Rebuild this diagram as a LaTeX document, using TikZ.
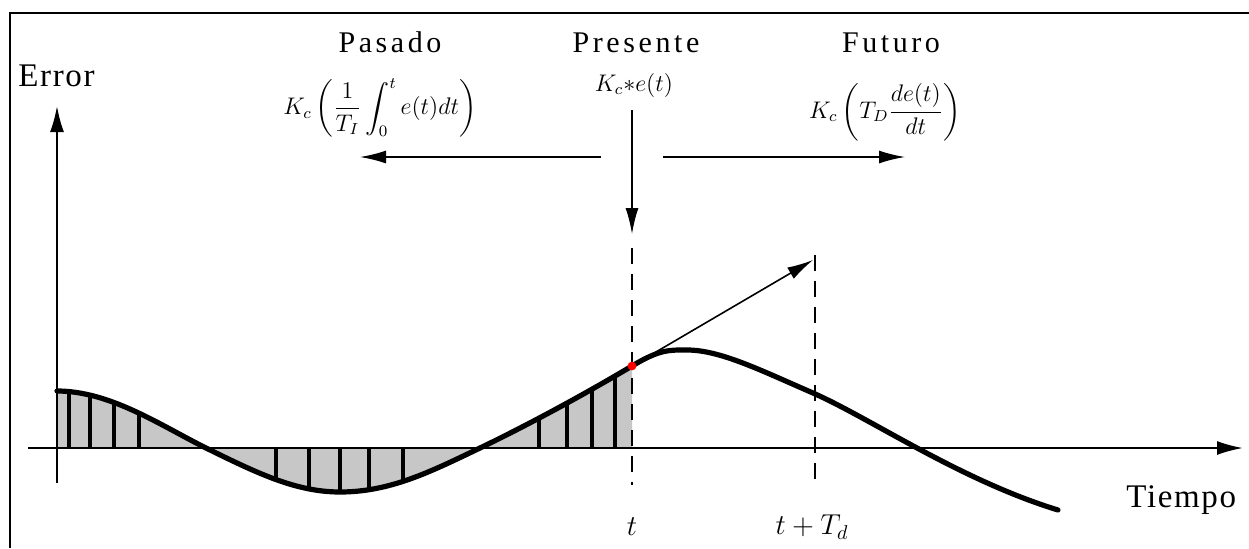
\documentclass[tikz,border=0pt]{standalone}
\usepackage{amsmath}
\usepackage{fontspec}
\setmainfont{Liberation Serif}
\usetikzlibrary{arrows.meta}

\tikzset{
    axis/.style={line width=1pt,-{Latex[length=13pt,width=7pt]}},
    timearrow/.style={line width=0.8pt,-{Latex[length=13pt,width=6.5pt]}},
    marker/.style={line width=0.7pt,dash pattern=on 8pt off 5pt},
    errline/.style={line width=2.6pt,line join=round,line cap=round},
    hatch/.style={line width=2pt},
    areafill/.style={fill=black!22},
    title/.style={anchor=base,inner sep=0pt,font=\fontsize{15}{18}\selectfont\addfontfeature{LetterSpace=12}},
    axislabel/.style={anchor=base west,inner sep=0pt,font=\fontsize{16.5}{20}\selectfont\addfontfeature{LetterSpace=5}},
    formula/.style={inner sep=0pt,font=\fontsize{12}{14}\selectfont},
    timelabel/.style={font=\fontsize{14}{16}\selectfont},
}

% error signal e(t), pixel coordinates (y down)
\def\errorcurve{(57,391) .. controls (110,391) and (160,425) .. (206,448)
    .. controls (255,472) and (295,492) .. (340,492)
    .. controls (390,492) and (430,472) .. (480,448)
    .. controls (540,419) and (595,388) .. (632,366)
    .. controls (660,349) and (670,350) .. (687,350)
    .. controls (720,350) and (760,370) .. (813,393)
    .. controls (870,418) and (960,480) .. (1058,510)}

\begin{document}
\begin{tikzpicture}[x=0.5pt,y=-0.5pt]
    \useasboundingbox (0,0) rectangle (1249,548);
    % frame (top and left only)
    \draw[line width=1pt] (10,548) -- (10,13) -- (1249,13);
    % area under the curve up to t
    \begin{scope}
        \clip (57,0) rectangle (632,548);
        \path[areafill] \errorcurve -- (1058,448) -- (57,448) -- cycle;
        \clip \errorcurve -- (1058,448) -- (57,448) -- cycle;
        \foreach \xbar in {69,90,114,139,276,309,340,369,403,539,567,592,615}
            \draw[hatch] (\xbar,300) -- (\xbar,520);
    \end{scope}
    % axes
    \coordinate (ybot) at (57,483);
    \coordinate (ytop) at (57,106);
    \coordinate (xleft) at (28,448);
    \coordinate (xright) at (1243,448);
    \draw[axis] (ybot) -- (ytop);
    \draw[axis] (xleft) -- (xright);
    \node[axislabel] (error) at (18,86) {Error};
    \node[axislabel] (tiempo) at (1126,507) {Tiempo};
    % the curve
    \draw[errline] \errorcurve;
    % present instant and prediction
    \coordinate (tnow) at (632,366);
    \coordinate (tpred) at (813,260);
    \draw[marker] (632,248) -- (632,485);
    \draw[marker] (815,255) -- (815,485);
    \draw[timearrow] (tnow) -- (tpred);
    \fill[red] (tnow) circle (2.2pt);
    \node[timelabel] (tlab) at (632,527) {$t$};
    \node[timelabel] (tdlab) at (812,527) {$t+T_d$};
    % titles and terms
    \node[title] (pasado) at (390,52) {Pasado};
    \node[title] (presente) at (636,52) {Presente};
    \node[title] (futuro) at (891,52) {Futuro};
    \node[formula] (fpasado) at (380,108)
        {$K_c\left(\dfrac{1}{T_I}\displaystyle\int_0^t e(t)dt\right)$};
    \node[formula] (fpresente) at (634,85) {$K_c{*}e(t)$};
    \node[formula] (ffuturo) at (885,112) {$K_c\left(T_D\dfrac{de(t)}{dt}\right)$};
    % arrows
    \coordinate (pstart) at (601,157);
    \coordinate (pend) at (360,157);
    \coordinate (fstart) at (663,157);
    \coordinate (fend) at (905,157);
    \coordinate (nstart) at (632,110);
    \coordinate (nend) at (632,234);
    \draw[timearrow] (pstart) -- (pend);
    \draw[timearrow] (fstart) -- (fend);
    \draw[timearrow] (nstart) -- (nend);
\end{tikzpicture}
\end{document}
